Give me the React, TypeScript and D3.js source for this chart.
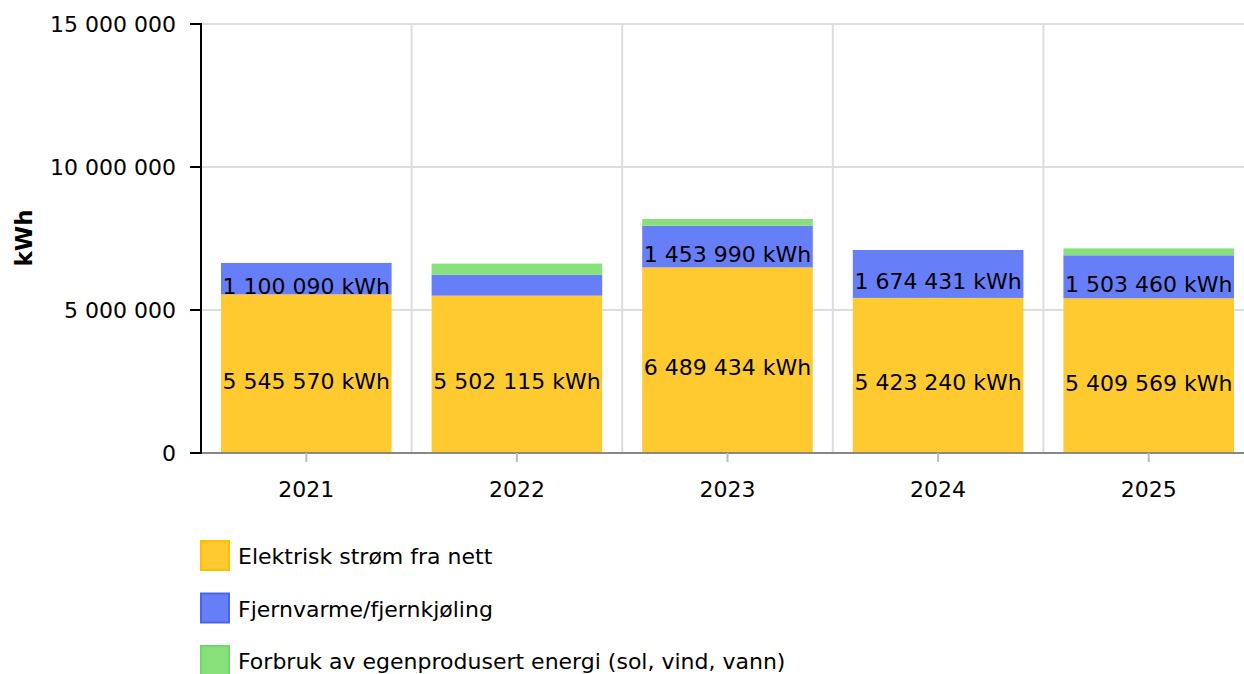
import * as d3 from "d3";

const years = ["2021", "2022", "2023", "2024", "2025"];
const elektrisk = [5545570, 5502115, 6489434, 5423240, 5409569];
const fjernvarme = [1100090, 730000, 1453990, 1674431, 1503460];
const egenprodusert = [0, 390000, 240000, 0, 240000];
const seriesNames = [
  "Elektrisk strøm fra nett",
  "Fjernvarme/fjernkjøling",
  "Forbruk av egenprodusert energi (sol, vind, vann)",
];
const yTicks = [0, 5000000, 10000000, 15000000];

const fills = ["#ffca30", "#667ef8", "#88e07a"];
const strokes = ["#ffbe00", "#4a64f2", "#6fd868"];

const width = 1244;
const height = 674;
const marginLeft = 201;
const plotRight = 1254;
const marginTop = 24;
const baseY = 453;
const font = "DejaVu Sans, Verdana, sans-serif";
const fs = 22;

const fmt = d3.formatLocale({
  decimal: ",",
  thousands: " ",
  grouping: [3],
  currency: ["", " kr"],
}).format(",d");

export default function App() {
  const rows = years.map((year, i) => ({
    year,
    s0: elektrisk[i],
    s1: fjernvarme[i],
    s2: egenprodusert[i],
  }));
  const stacked = d3.stack<any>().keys(["s0", "s1", "s2"])(rows);

  const x = d3.scaleBand().domain(years).range([marginLeft, plotRight]).padding(0);
  const barW = x.bandwidth() * 0.81;
  const y = d3.scaleLinear().domain([0, 15000000]).range([baseY, marginTop]);

  return (
    <svg
      width={width}
      height={height}
      style={{ position: "absolute", left: 0, top: 0, background: "#fff" }}
      fontFamily={font}
    >
      {/* grid */}
      {yTicks.map((t) => (
        <line key={"gy" + t} x1={marginLeft} x2={plotRight} y1={y(t)} y2={y(t)} stroke="#dddddd" strokeWidth={2} />
      ))}
      {years.slice(1).map((yr) => (
        <line key={"gx" + yr} x1={x(yr)} x2={x(yr)} y1={marginTop} y2={baseY} stroke="#dddddd" strokeWidth={2} />
      ))}

      {/* bars */}
      {stacked.map((layer, si) => (
        <g key={layer.key} fill={fills[si]}>
          {layer.map((d, i) => {
            const h = y(d[0]) - y(d[1]);
            if (h <= 0) return null;
            return (
              <rect
                key={years[i]}
                x={(x(years[i]) as number) + (x.bandwidth() - barW) / 2}
                y={y(d[1])}
                width={barW}
                height={h}
              />
            );
          })}
        </g>
      ))}

      {/* labels */}
      {stacked.slice(0, 2).map((layer) =>
        layer.map((d, i) => {
          const h = y(d[0]) - y(d[1]);
          if (h < 25) return null;
          const cy = (y(d[0]) + y(d[1])) / 2;
          return (
            <text
              key={layer.key + years[i]}
              x={(x(years[i]) as number) + x.bandwidth() / 2}
              y={cy + 15}
              textAnchor="middle"
              fontSize={fs}
              fill="#000"
            >
              {fmt(d[1] - d[0])} kWh
            </text>
          );
        })
      )}

      {/* x axis */}
      <line x1={marginLeft} x2={plotRight} y1={baseY} y2={baseY} stroke="#888" strokeWidth={2} />
      {years.map((yr) => {
        const cx = (x(yr) as number) + x.bandwidth() / 2;
        return (
          <g key={"xt" + yr}>
            <line x1={cx} x2={cx} y1={baseY} y2={baseY + 9} stroke="#bbb" strokeWidth={2} />
            <text x={cx} y={497} textAnchor="middle" fontSize={fs}>
              {yr}
            </text>
          </g>
        );
      })}

      {/* y axis */}
      <line x1={marginLeft} x2={marginLeft} y1={marginTop - 1} y2={baseY + 1} stroke="#000" strokeWidth={2} />
      {yTicks.map((t) => (
        <g key={"yt" + t}>
          <line x1={190} x2={marginLeft} y1={y(t)} y2={y(t)} stroke="#000" strokeWidth={2} />
          <text x={176} y={y(t) + 8} textAnchor="end" fontSize={fs}>
            {fmt(t)}
          </text>
        </g>
      ))}
      <text
        transform={`translate(32,238) rotate(-90)`}
        textAnchor="middle"
        fontSize={23}
        fontWeight="bold"
      >
        kWh
      </text>

      {/* legend */}
      {seriesNames.map((name, i) => (
        <g key={name} transform={`translate(201,${541 + i * 52.5})`}>
          <rect width={28} height={29} fill={fills[i]} stroke={strokes[i]} strokeWidth={2} />
          <text x={37} y={23} fontSize={fs}>
            {name}
          </text>
        </g>
      ))}
    </svg>
  );
}
